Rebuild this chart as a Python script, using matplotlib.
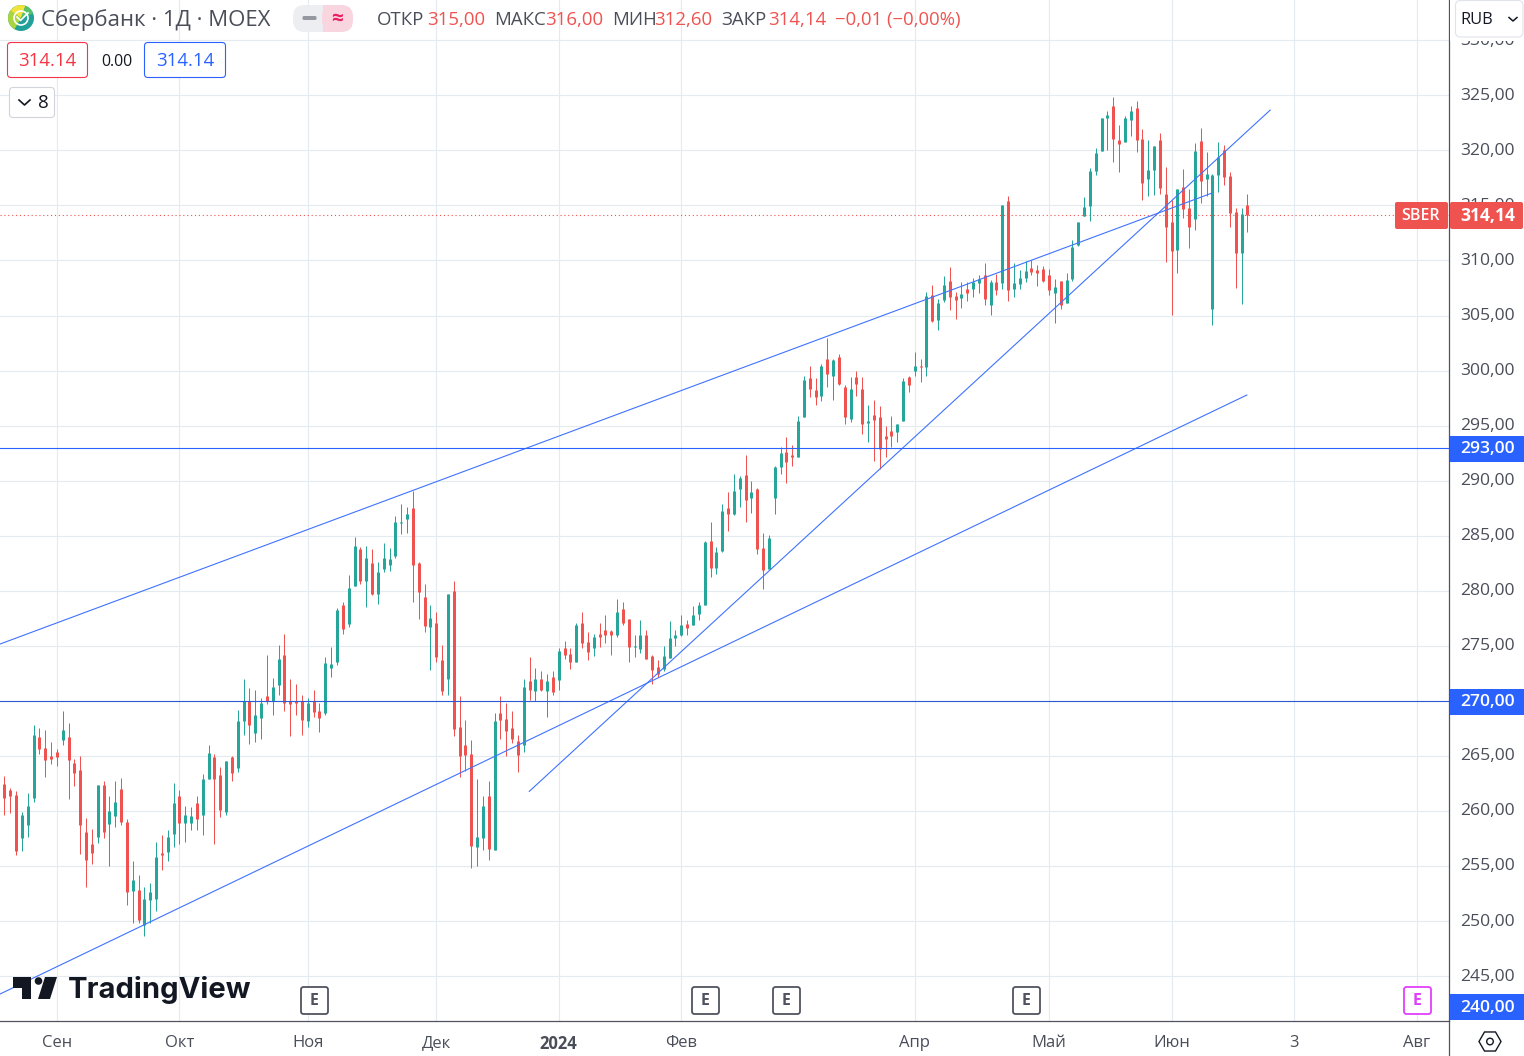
import numpy as np
import matplotlib
matplotlib.use('Agg')
import matplotlib.pyplot as plt
from matplotlib.patches import FancyBboxPatch, Rectangle, Circle, Polygon, Wedge, RegularPolygon
from matplotlib.transforms import ScaledTranslation

plt.rcParams['font.family'] = ['Open Sans', 'DejaVu Sans']

opens = [
    258.30,262.48,261.94,261.48,257.57,258.76,261.21,266.76,265.76,265.03,
    265.39,266.48,266.76,264.39,263.76,258.12,257.03,257.67,262.39,258.85,
    259.57,262.03,259.03,252.76,252.85,249.67,251.94,252.03,256.21,256.30,
    257.94,261.39,258.94,258.94,260.76,259.67,262.94,264.94,263.30,259.94,
    264.94,263.94,268.21,270.00,267.12,268.48,270.48,270.00,271.48,274.12,
    270.00,270.00,270.00,268.21,270.00,269.12,268.94,272.94,273.57,278.67,
    276.94,280.39,283.76,280.85,282.48,279.67,281.94,282.30,283.12,286.12,
    286.48,287.48,282.48,279.39,276.67,277.03,273.67,271.94,279.94,267.67,
    266.03,265.21,256.76,257.57,261.39,256.48,268.94,268.39,267.57,266.39,
    266.03,271.76,270.94,271.94,270.85,272.21,271.85,274.76,274.30,273.57,
    277.03,275.39,274.76,276.03,276.48,276.30,275.94,278.30,277.48,274.85,
    274.67,275.94,274.03,273.03,272.85,273.85,275.67,275.94,276.94,276.85,
    277.85,278.67,284.49,282.03,283.58,287.49,286.94,289.22,290.49,288.40,
    289.22,283.85,281.94,288.40,291.22,292.58,292.31,292.13,295.76,299.31,
    298.22,297.67,301.03,299.49,301.22,298.49,295.58,299.40,298.31,295.22,
    295.94,295.76,294.03,294.49,294.40,295.40,299.40,299.94,300.40,300.31,
    306.84,304.57,306.39,308.12,306.75,306.57,307.39,307.39,307.93,308.66,
    305.93,308.03,307.93,315.39,307.39,307.84,308.39,309.30,309.12,309.21,
    308.66,307.03,308.12,306.12,308.30,311.39,314.03,314.93,318.12,319.93,
    322.93,324.03,320.93,320.75,322.75,323.84,321.03,317.39,318.21,320.93,
    316.03,313.48,310.93,316.66,314.75,313.75,320.84,317.39,305.57,317.75,
    320.03,317.66,314.39,310.66,315.00]
highs = [
    261.48,263.15,262.09,261.85,259.94,261.67,267.85,267.57,267.39,266.30,
    265.67,269.12,268.03,264.76,265.03,259.39,258.39,262.39,262.76,261.39,
    262.76,263.03,259.30,255.48,254.21,253.12,253.48,257.21,257.85,258.30,
    262.57,261.94,260.48,260.39,261.39,263.39,266.03,265.21,264.03,264.57,
    265.03,269.21,272.03,271.21,271.03,270.30,274.12,272.12,275.03,276.03,
    272.03,271.57,270.57,270.30,271.03,269.85,273.94,274.85,278.39,278.94,
    281.39,284.85,283.94,284.03,283.76,282.57,284.30,283.85,286.76,287.85,
    287.57,289.03,282.57,280.57,278.67,278.03,275.03,279.67,280.85,270.48,
    268.30,266.48,262.94,261.39,262.76,268.94,270.48,269.76,269.12,266.94,
    271.94,273.94,272.94,272.67,272.48,272.67,274.76,275.48,274.76,277.03,
    278.03,276.21,276.03,277.03,277.76,276.48,279.21,278.94,277.48,275.94,
    277.30,276.48,274.21,273.67,274.94,277.22,276.40,277.76,277.31,278.58,
    278.94,284.49,286.22,283.94,287.85,288.94,290.58,290.40,292.31,289.94,
    289.31,285.22,285.03,291.31,293.03,293.94,293.22,295.85,299.49,300.40,
    299.31,300.58,302.94,301.03,301.49,298.67,299.40,299.94,299.40,296.85,
    297.31,296.76,294.94,295.85,295.13,299.31,299.49,301.67,301.03,307.12,
    307.75,306.48,308.57,309.39,307.12,308.03,308.03,308.39,308.66,309.75,
    308.21,308.75,315.00,315.84,309.75,309.12,309.93,310.03,309.57,309.48,
    309.21,308.30,308.12,308.84,311.84,313.48,315.75,318.39,320.21,322.93,
    323.57,324.84,322.30,323.12,324.03,324.48,321.93,320.93,320.39,321.57,
    318.48,315.48,316.48,318.30,316.48,320.66,322.03,319.84,317.84,320.75,
    320.48,318.03,314.75,314.75,316.00]
lows = [
    258.30,259.60,259.85,256.03,256.39,257.67,260.85,265.21,263.12,264.30,
    264.12,266.03,261.12,262.30,256.12,253.12,255.21,257.12,257.57,255.03,
    258.57,258.76,251.48,249.85,249.85,248.67,249.85,250.94,254.67,255.48,
    256.76,257.03,257.21,258.30,258.30,257.85,262.94,257.03,259.48,259.67,
    262.76,263.57,266.94,266.12,266.30,266.57,269.67,268.67,270.57,269.12,
    266.85,268.67,266.94,267.67,268.57,267.21,268.67,272.21,273.30,276.03,
    276.67,280.39,280.57,278.57,279.57,278.76,281.67,281.76,282.94,285.12,
    285.21,278.94,277.39,276.21,272.76,273.57,270.57,270.57,266.85,263.12,
    263.67,254.85,255.03,256.48,255.57,256.48,266.57,265.03,266.21,263.57,
    265.39,270.12,270.03,270.85,268.57,270.57,271.03,273.76,272.85,273.57,
    274.76,273.67,274.03,274.85,275.30,274.12,275.76,276.85,273.57,273.94,
    274.39,273.76,271.57,272.13,272.67,273.85,274.94,275.85,275.94,276.85,
    277.31,278.67,281.22,281.49,283.49,285.40,286.85,287.58,286.22,287.03,
    283.31,280.13,281.94,286.94,290.58,289.76,291.31,292.13,295.76,297.58,
    296.85,297.22,298.49,297.31,298.67,295.13,295.31,297.67,294.22,293.49,
    291.76,291.03,292.13,293.03,293.49,295.40,298.03,299.49,298.94,299.50,
    304.39,303.66,306.21,305.48,304.66,305.66,306.30,306.66,307.03,305.93,
    305.03,306.84,307.39,306.30,306.66,307.39,308.03,308.66,307.66,308.03,
    306.84,304.30,305.57,306.12,308.12,311.30,314.03,313.57,317.75,319.93,
    320.03,318.93,318.03,320.75,321.30,319.84,315.48,315.84,315.93,316.03,
    309.84,305.03,308.84,313.84,311.12,312.75,315.21,315.84,304.12,316.21,
    316.84,313.03,307.48,306.03,312.60]
closes = [
    261.18,261.18,261.39,256.33,259.67,260.48,266.94,265.67,264.67,264.76,
    264.94,267.39,264.67,263.48,258.76,255.57,256.21,262.39,258.12,260.03,
    260.85,259.03,252.67,253.76,250.12,252.03,252.67,255.85,256.03,257.67,
    260.76,258.94,259.67,259.57,259.30,262.94,265.30,262.94,260.12,264.57,
    263.48,268.21,270.00,267.85,268.67,269.85,270.00,271.30,273.76,269.85,
    269.67,269.85,268.30,269.76,269.03,268.48,273.48,273.39,278.21,276.57,
    280.21,284.03,280.85,282.94,279.67,281.67,282.94,282.85,286.21,286.21,
    286.94,282.30,279.85,276.76,277.57,273.94,270.94,279.67,267.48,265.03,
    265.12,256.85,257.67,260.48,256.57,268.21,268.30,267.30,266.57,265.12,
    271.30,271.03,271.94,271.03,271.76,270.76,274.57,274.12,273.57,276.85,
    275.21,274.48,275.76,275.76,275.94,275.94,278.03,277.03,274.85,274.94,
    275.94,273.76,272.76,272.40,274.03,275.67,275.94,276.85,276.58,277.76,
    278.67,284.40,282.03,283.49,287.22,286.94,289.03,290.22,288.22,288.94,
    283.76,281.85,284.76,291.22,292.49,291.67,292.13,295.40,299.13,298.31,
    297.58,300.40,299.67,300.94,298.76,295.76,298.31,298.76,295.13,295.40,
    295.49,292.85,293.76,294.03,295.13,299.03,298.67,300.40,300.31,306.75,
    304.48,306.12,307.75,306.66,306.39,306.93,307.03,308.03,308.30,306.48,
    308.03,307.30,315.00,307.30,307.93,308.39,309.03,308.93,308.84,308.12,
    307.30,307.57,305.93,308.21,311.21,313.48,314.84,318.12,319.75,322.93,
    323.21,321.03,320.57,322.93,323.57,320.93,317.03,318.21,320.39,316.57,
    313.03,310.84,316.48,314.66,313.03,319.93,317.21,317.84,317.75,319.39,
    317.57,314.30,310.66,314.21,314.14]

price_ticks = [245, 250, 255, 260, 265, 270, 275, 280, 285, 290, 295, 300, 305, 310, 315, 320, 325, 330]
month_pos = [10, 31, 53, 75, 96, 117, 157, 180, 201, 222, 243]
month_labels = ['Сен', 'Окт', 'Ноя', 'Дек', '2024', 'Фев', 'Апр', 'Май', 'Июн', '3', 'Авг']

# trend lines, (bar, price) at both ends
upper_x, upper_y = [0.26, 207.8], [275.16, 316.10]
lower_x, lower_y = [0.26, 213.9], [243.37, 297.78]
steep_x, steep_y = [90.95, 217.9], [261.78, 323.66]
levels = [293, 270]
last_price = 314.14

UP = '#26a69a'
DOWN = '#ef5350'
BLUE = '#2962ff'
GRID = '#e3ebf1'
AXIS = '#50535e'
TEXT = '#4a4e59'

W, H = 1524, 1056
fig = plt.figure(figsize=(W / 100, H / 100), dpi=100, facecolor='white')
ax = fig.add_axes([0, (H - 1021) / H, 1449 / W, 1021 / H])
ax.set_xlim(0.257, 248.54)
ax.set_ylim(240.92, 333.66)

x = np.arange(len(opens))
o, h, l, c = map(np.array, (opens, highs, lows, closes))
colors = np.where(c >= o, UP, DOWN)

ax.set_axisbelow(True)
ax.grid(True, color=GRID, lw=0.8)
# 1 px wicks and 3 px bodies, snapped so they share a centre
ax.vlines(x, l, h, colors=colors, lw=0.72, zorder=3, snap=True)
ax.vlines(x, np.minimum(o, c), np.minimum(o, c) + np.maximum(np.abs(c - o), 0.1),
          colors=colors, lw=2.16, zorder=3, snap=True, capstyle='butt')

for lx, ly in ((upper_x, upper_y), (lower_x, lower_y), (steep_x, steep_y)):
    ax.plot(lx, ly, color='#3f73ff', lw=0.8, zorder=4)
ax.axhline(levels[0], color=BLUE, lw=0.8, zorder=4)
ax.axhline(levels[1], color='#2c5ad6', lw=0.8, zorder=4)
ax.axhline(last_price, color=DOWN, lw=0.8, ls=(0, (1, 2.5)), zorder=2)

ax.yaxis.tick_right()
ax.set_yticks(price_ticks)
ax.set_yticklabels([f'{p},00' for p in price_ticks], fontsize=12.6, color=TEXT)
ax.set_xticks(month_pos)
ax.set_xticklabels(month_labels, fontsize=12, color=TEXT)
ax.tick_params(length=0, axis='y', pad=8)
ax.tick_params(length=0, axis='x', pad=10.3)
for t in ax.get_yticklabels():
    t.set_transform(t.get_transform() + ScaledTranslation(0, 1.5 / 100, fig.dpi_scale_trans))
for t in ax.get_xticklabels():
    if t.get_text() == '2024':
        t.set_fontweight('bold')
for s in ('left', 'top'):
    ax.spines[s].set_visible(False)
for s in ('right', 'bottom'):
    ax.spines[s].set_color(AXIS)
    ax.spines[s].set_linewidth(0.9)

# interface parts on top, in pixels
ui = fig.add_axes([0, 0, 1, 1], facecolor='none')
ui.set_xlim(0, W)
ui.set_ylim(H, 0)
ui.axis('off')


def box(x0, y0, x1, y1, fc='white', ec='none', r=3, lw=0.8, z=5):
    ui.add_patch(FancyBboxPatch((x0 + r, y0 + r), x1 - x0 - 2 * r, y1 - y0 - 2 * r,
                                boxstyle=f'round,pad={r},rounding_size={r}',
                                fc=fc, ec=ec, lw=lw, zorder=z))


def label(x0, y, s, color=TEXT, size=12.6, ha='left', weight='normal', family=None, z=6):
    return ui.text(x0, y, s, color=color, fontsize=size, ha=ha, va='center',
                   fontweight=weight, family=family, zorder=z)


ui.plot([1449, 1449], [1021, 1056], color=AXIS, lw=0.9)

# symbol icon
ui.add_patch(Circle((21, 18), 13, fc='#21a19a', zorder=5))
ui.add_patch(Wedge((21, 18), 13, 120, 215, fc='#a9d63f', zorder=5))
ui.add_patch(Wedge((21, 18), 13, 215, 290, fc='#f2e33c', zorder=5))
ui.add_patch(Wedge((21, 18), 13, 290, 340, fc='#58c26b', zorder=5))
ui.add_patch(Circle((21, 18), 7, fc='none', ec='white', lw=1.2, zorder=6))
ui.plot([17, 20.5, 28], [17, 20.5, 13], color='white', lw=1.2, zorder=7)

label(41, 20, 'Сбербанк · 1Д · MOEX', size=16, color='#4a4e59')

# pill
box(293, 5, 340, 32, fc='#eceef1', r=12)
box(322, 5, 353, 32, fc='#f9d5e0', r=12, z=5)
ui.add_patch(Rectangle((323, 5), 10, 27, fc='#f9d5e0', zorder=5))
ui.add_patch(FancyBboxPatch((303, 16.5), 13, 3, boxstyle='round,pad=0.5,rounding_size=1.5',
                            fc='#9598a1', ec='none', zorder=6))
label(337.5, 19, '≈', color='#e91e63', size=15, ha='center', weight='bold')

for name, val, nx, vx in (('ОТКР', '315,00', 377, 427), ('МАКС', '316,00', 494, 545),
                          ('МИН', '312,60', 612, 654), ('ЗАКР', '314,14', 721, 768)):
    label(nx, 20, name, size=13.4)
    label(vx, 20, val, color=DOWN, size=13.4)
label(835, 20, '−0,01 (−0,00%)', color=DOWN, size=13.3)

box(7.5, 42.5, 87.5, 77.5, ec='#f23645', r=3.5)
label(47.5, 61.5, '314.14', color='#f23645', size=13.4, ha='center')
label(116.5, 61.5, '0.00', color='#131722', size=11.4, ha='center')
box(144.5, 42.5, 225.5, 77.5, ec=BLUE, r=3.5)
label(185, 61.5, '314.14', color=BLUE, size=13.4, ha='center')
box(9.5, 87.5, 54.5, 117.5, ec='#d1d4dc', r=3.5)
ui.plot([19, 24.5, 30], [100, 105, 100], color='#131722', lw=1.2, zorder=6)
label(43, 103, '8', color='#131722', size=13.5, ha='center')

# currency box
ui.add_patch(Rectangle((1450, 0), 74, 41, fc='white', zorder=5))
box(1455.5, 0.5, 1523, 37, ec='#e0e3eb', r=5)
label(1460, 19.5, 'RUB', color='#131722', size=11.8)
ui.plot([1509, 1513, 1517], [17.5, 21, 17.5], color='#131722', lw=1.1, zorder=6)

# price tags
for y, s in ((448.5, '293,00'), (701.5, '270,00'), (1007, '240,00')):
    ui.add_patch(Rectangle((1450, y - 13), 74, 26, fc=BLUE, zorder=5))
    label(1488, y + 0.8, s, color='white', size=12.6, ha='center', weight='semibold')
box(1395, 202, 1448, 229, fc=DOWN, r=2)
label(1421, 216.5, 'SBER', color='white', size=11.5, ha='center', weight='semibold')
box(1450, 202, 1523, 229, fc=DOWN, r=2)
label(1488, 216, '314,14', color='white', size=12.6, ha='center', weight='bold')

# earnings markers
for cx, col in ((314.5, AXIS), (705.5, AXIS), (786.5, AXIS), (1026.5, AXIS), (1417.5, '#e040fb')):
    box(cx - 13.5, 987, cx + 13.5, 1014, fc='white', ec=col, r=2.5, lw=1.3)
    label(cx, 1001, 'E', color=col, size=11.5, ha='center', weight='bold')

# logo
ui.add_patch(Polygon([(13, 977), (31, 977), (31, 999), (22, 999), (22, 988), (13, 988)],
                     fc='#131722', zorder=6))
ui.add_patch(Circle((38.5, 981), 3.8, fc='#131722', zorder=6))
ui.add_patch(Polygon([(45, 977), (57, 977), (50, 999), (38, 999)], fc='#131722', zorder=6))
label(68, 990, 'TradingView', color='#131722', size=21, weight='bold', family='Inter')

# settings icon
ui.add_patch(RegularPolygon((1490, 1041.5), 6, radius=11, orientation=np.pi / 2,
                            fc='white', ec='#131722', lw=1.0, zorder=6))
ui.add_patch(Circle((1490, 1041.5), 3.3, fc='white', ec='#131722', lw=1.0, zorder=7))

fig.savefig('out.png', dpi=100)
